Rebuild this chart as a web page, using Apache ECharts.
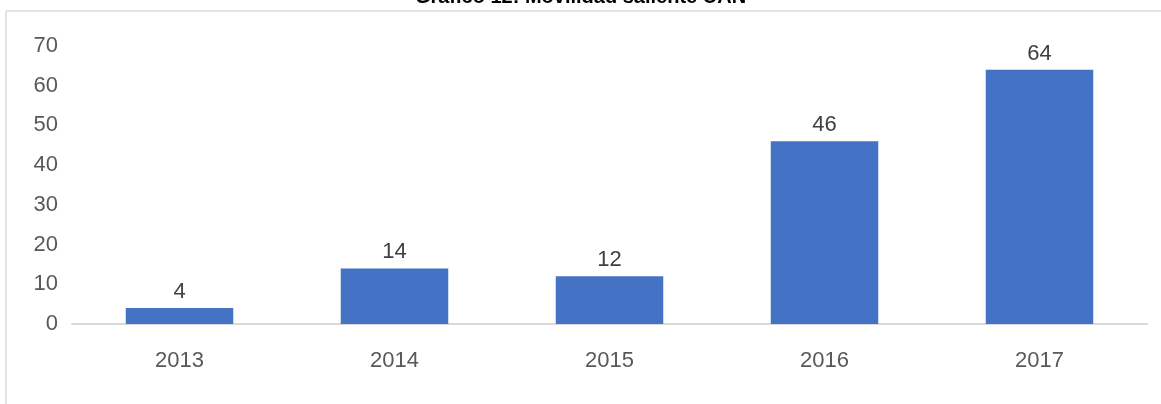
<!DOCTYPE html>
<html>
<head>
<meta charset="utf-8">
<script src="https://cdn.jsdelivr.net/npm/echarts@6/dist/echarts.min.js"></script>
<style>
  html, body { margin: 0; padding: 0; background: #fff; }
  #chart { width: 1161px; height: 404px; }
</style>
</head>
<body>
<div id="chart"></div>
<script>
// Gráfico 12: Movilidad saliente UAN
const titleText = 'Gráfico 12: Movilidad saliente UAN';
const years = ['2013', '2014', '2015', '2016', '2017'];
const movilidad = [4, 14, 12, 46, 64];

const labelFont = 'Liberation Sans';

const myChart = echarts.init(document.getElementById('chart'));

const option = {
	animation: false,
	title: {
		text: titleText,
		left: 'center',
		top: -18,
		textStyle: {
			fontFamily: 'Liberation Sans',
			fontWeight: 'bold',
			fontSize: 20,
			color: '#000'
		}
	},
	// marco del gráfico (solo arriba e izquierda se ven)
	graphic: [
		{ type: 'line', shape: { x1: 6, y1: 11, x2: 1161, y2: 11 }, style: { stroke: '#e4e4e4', lineWidth: 2 } },
		{ type: 'line', shape: { x1: 6, y1: 11, x2: 6, y2: 404 }, style: { stroke: '#e4e4e4', lineWidth: 2 } }
	],
	grid: {
		left: 72,
		right: 14,
		top: 46,
		bottom: 80
	},
	xAxis: {
		type: 'category',
		data: years,
		axisLine: { lineStyle: { color: '#d9d9d9', width: 2 } },
		axisTick: { show: false },
		axisLabel: {
			margin: 26,
			fontFamily: labelFont,
			fontSize: 22,
			color: '#595959'
		}
	},
	yAxis: {
		type: 'value',
		min: 0,
		max: 70,
		interval: 10,
		splitLine: { show: false },
		axisLine: { show: false },
		axisTick: { show: false },
		axisLabel: {
			margin: 14,
			fontFamily: labelFont,
			fontSize: 22,
			color: '#595959'
		}
	},
	series: [{
		type: 'bar',
		data: movilidad,
		barWidth: '50%',
		itemStyle: { color: '#4472C4' },
		label: {
			show: true,
			position: 'top',
			distance: 5,
			fontFamily: labelFont,
			fontSize: 22,
			color: '#404040'
		}
	}]
};

myChart.setOption(option);
</script>
</body>
</html>
